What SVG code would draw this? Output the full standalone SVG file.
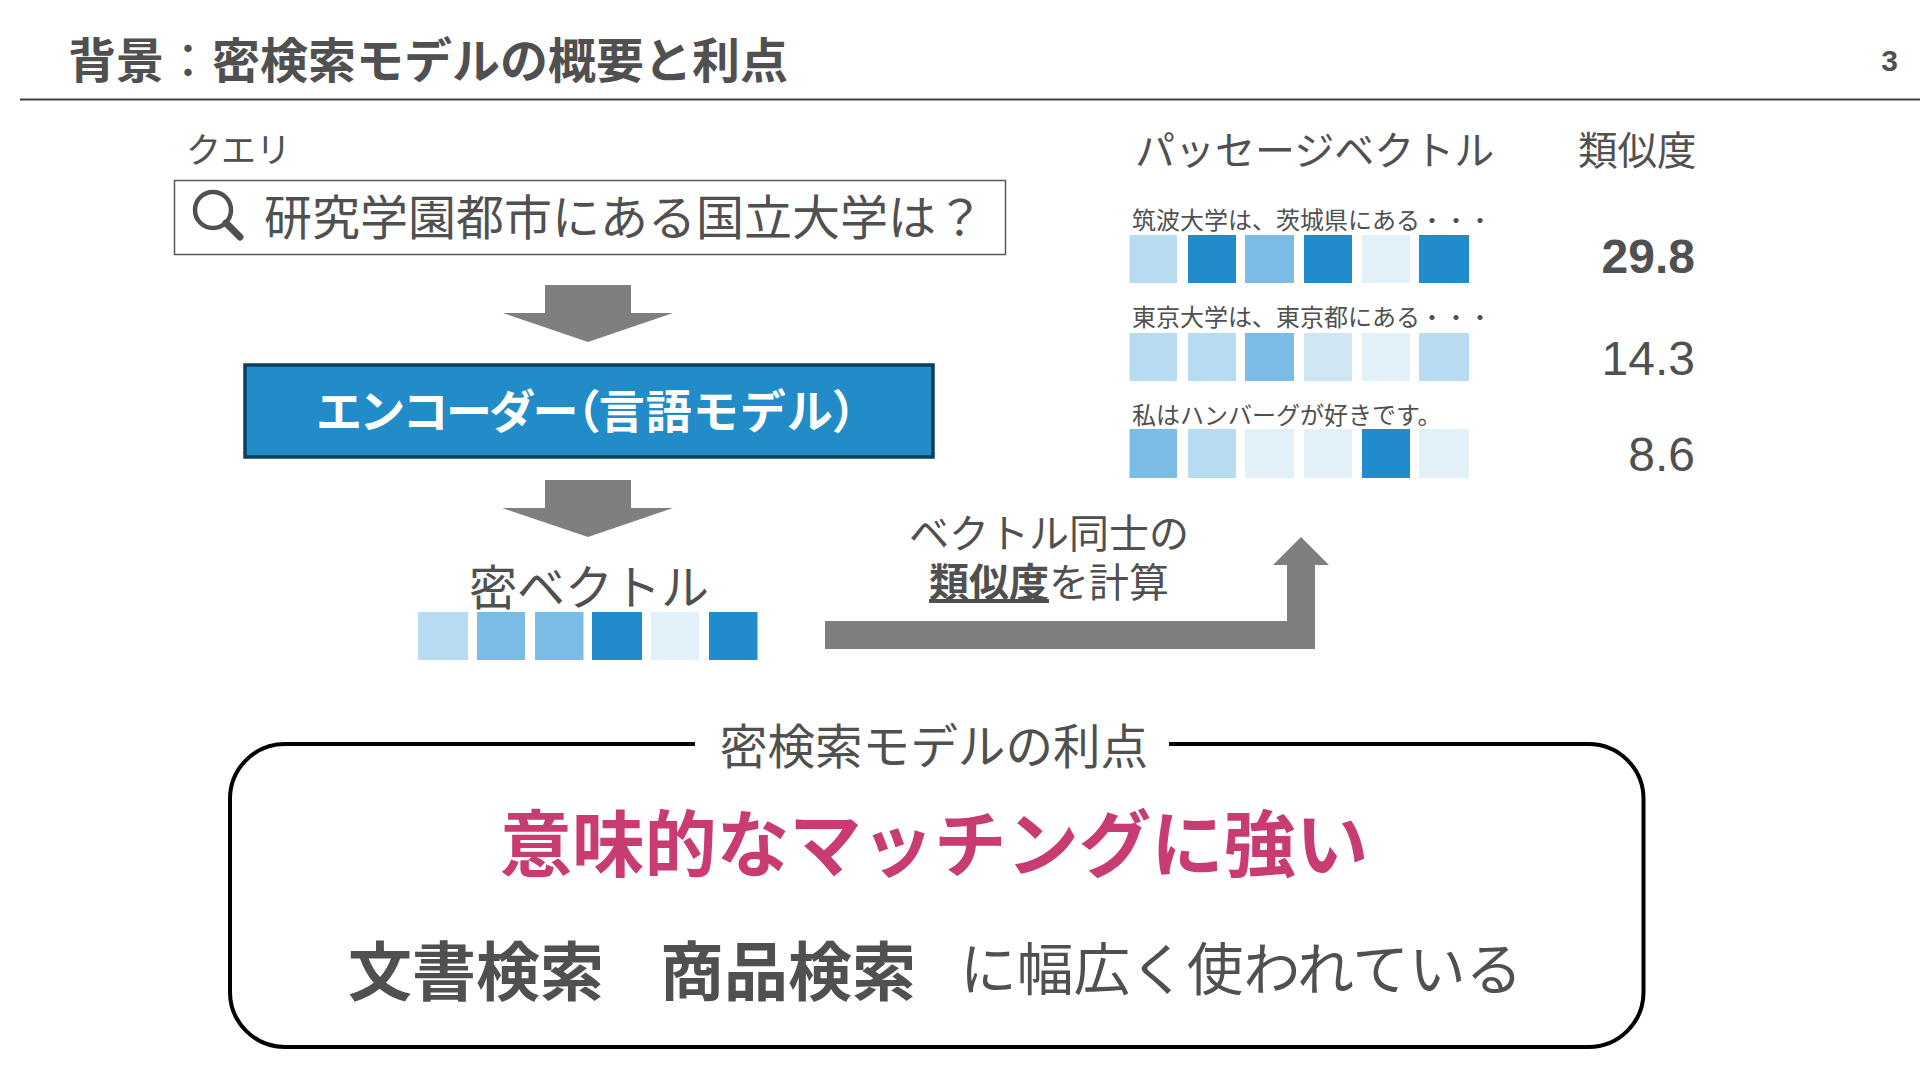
<svg xmlns="http://www.w3.org/2000/svg" width="1920" height="1080" viewBox="0 0 1920 1080">
<style>
text{font-family:"Liberation Sans","Noto Sans CJK JP",sans-serif;fill:#505050}
.b{font-weight:700}
.c1{fill:#E2F0F9}.c2{fill:#CFE6F5}.c3{fill:#B7DCF2}.c4{fill:#7BBCE6}.c5{fill:#218CCB}
.ar{fill:#7F7F7F}
.s24{font-size:24px}.s40{font-size:40px}.s48{font-size:48px;text-anchor:end}
.p{font-feature-settings:"palt"}
</style>
<rect width="1920" height="1080" fill="#fff"/>
<g id="header">
<text x="68" y="78" font-size="48" class="b">背景<tspan font-weight="400">：</tspan>密検索モデルの概要と利点</text>
<text x="1898" y="71" font-size="30" text-anchor="end" class="b">3</text>
<line x1="20" y1="99.5" x2="1920" y2="99.5" stroke="#404040" stroke-width="2"/>
</g>
<g id="query">
<text x="186" y="163" font-size="35">クエリ</text>
<rect x="174.500" y="180.500" width="831" height="74" fill="#fff" stroke="#595959" stroke-width="1.500"/>
<circle cx="213" cy="210" r="18" fill="none" stroke="#505050" stroke-width="4.500"/>
<line x1="226" y1="223" x2="240" y2="237" stroke="#505050" stroke-width="7" stroke-linecap="round"/>
<text x="264" y="235" font-size="48">研究学園都市にある国立大学は？</text>
</g>
<g id="encoder">
<rect x="245" y="365" width="688" height="92" fill="#218CC8" stroke="#0B3F5C" stroke-width="3.500"/>
<text x="316" y="428" font-size="46" class="b" style="fill:#fff"><tspan letter-spacing="-2.700">エンコーダー</tspan><tspan class="p">（</tspan><tspan letter-spacing="1">言語モデル</tspan><tspan class="p">）</tspan></text>
</g>
<g id="query-vector">
<text x="589" y="605" font-size="48" text-anchor="middle">密ベクトル</text>
<rect class="c3" x="418" y="612" width="50" height="48"/><rect class="c4" x="477" y="612" width="48" height="48"/><rect class="c4" x="535" y="612" width="48.500" height="48"/><rect class="c5" x="592" y="612" width="50" height="48"/><rect class="c1" x="651" y="612" width="48" height="48"/><rect class="c5" x="709" y="612" width="48.500" height="48"/>
</g>
<g id="passages">
<text x="1135" y="165" class="s40">パッセージベクトル</text>
<text class="s24" x="1132" y="229">筑波大学は、茨城県にある・・・</text>
<rect class="c3" x="1129.500" y="235" width="47.500" height="48"/><rect class="c5" x="1188" y="235" width="48" height="48"/><rect class="c4" x="1245" y="235" width="49" height="48"/><rect class="c5" x="1304" y="235" width="48" height="48"/><rect class="c1" x="1362" y="235" width="48" height="48"/><rect class="c5" x="1419" y="235" width="50" height="48"/>
<text class="s24" x="1132" y="326">東京大学は、東京都にある・・・</text>
<rect class="c3" x="1129.500" y="333" width="47.500" height="48"/><rect class="c3" x="1188" y="333" width="48" height="48"/><rect class="c4" x="1245" y="333" width="49" height="48"/><rect class="c2" x="1304" y="333" width="48" height="48"/><rect class="c1" x="1362" y="333" width="48" height="48"/><rect class="c3" x="1419" y="333" width="50" height="48"/>
<text class="s24" x="1132" y="424">私はハンバーグが好きです。</text>
<rect class="c4" x="1129.500" y="429" width="47.500" height="49"/><rect class="c3" x="1188" y="429" width="48" height="49"/><rect class="c1" x="1245" y="429" width="49" height="49"/><rect class="c1" x="1304" y="429" width="48" height="49"/><rect class="c5" x="1362" y="429" width="48" height="49"/><rect class="c1" x="1419" y="429" width="50" height="49"/>
</g>
<g id="scores">
<text x="1578" y="165" font-size="39.500">類似度</text>
<text class="s48 b" x="1695" y="273">29.8</text>
<text class="s48" x="1695" y="375">14.3</text>
<text class="s48" x="1695" y="471">8.6</text>
</g>
<g id="connectors">
<polygon class="ar" points="545,285 631,285 631,313 673,313 588,342 503,313 545,313"/>
<polygon class="ar" points="545,480 631,480 631,508 673,508 588,537 502,508 545,508"/>
<polygon class="ar" points="825,621 1287,621 1287,565 1273,565 1301,537 1329,565 1315,565 1315,649 825,649"/>
</g>
<g id="similarity-label">
<text x="1049" y="548" class="s40" text-anchor="middle">ベクトル同士の</text>
<text x="1049" y="597" class="s40" text-anchor="middle"><tspan class="b" text-decoration="underline">類似度</tspan>を計算</text>
</g>
<g id="benefits">
<path d="M695,744H285A55,55 0 0 0 230,799V992A55,55 0 0 0 285,1047H1588.500A55,55 0 0 0 1643.500,992V799A55,55 0 0 0 1588.500,744H1169" fill="none" stroke="#000" stroke-width="4"/>
<text x="934" y="764" font-size="47.600" text-anchor="middle">密検索モデルの利点</text>
<text x="934" y="871" font-size="72.400" class="b" text-anchor="middle" style="fill:#C83C73">意味的なマッチングに強い</text>
<text x="348" y="995" font-size="64" class="b">文書検索</text>
<text x="660" y="995" font-size="64" class="b">商品検索</text>
<text x="960" y="990" font-size="56.700">に幅広く使われている</text>
</g>
</svg>
